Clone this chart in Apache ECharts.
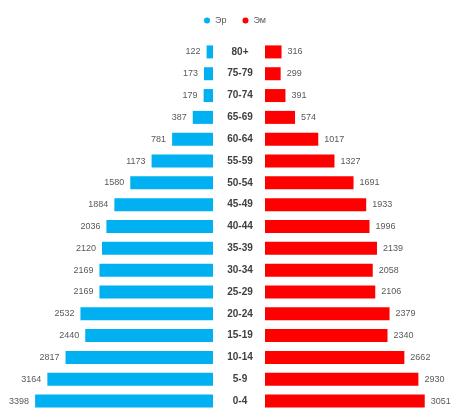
<!DOCTYPE html>
<html>
<head>
<meta charset="utf-8">
<script src="https://cdn.jsdelivr.net/npm/echarts@6/dist/echarts.min.js"></script>
<style>
html,body{margin:0;padding:0;background:#fff;}
#main{width:452px;height:412px;}
</style>
</head>
<body>
<div id="main"></div>
<script>
var ages=['80+','75-79','70-74','65-69','60-64','55-59','50-54','45-49','40-44','35-39','30-34','25-29','20-24','15-19','10-14','5-9','0-4'];
var male=[122,173,179,387,781,1173,1580,1884,2036,2120,2169,2169,2532,2440,2817,3164,3398];
var female=[316,299,391,574,1017,1327,1691,1933,1996,2139,2058,2106,2379,2340,2662,2930,3051];
var seriesNames=['Эр','Эм'];
var chartColor=['#00b0f0','#ff0000'];

var chart=echarts.init(document.getElementById('main'));
var labelStyle={show:true,fontSize:9,color:'#595959',fontFamily:'Liberation Sans'};
var option={
	color:chartColor,
	animation:false,
	legend:{
		data:seriesNames,
		top:11,
		left:199,
		icon:'circle',
		itemWidth:6,
		itemHeight:6,
		itemGap:16,
		textStyle:{fontSize:9,color:'#595959',fontFamily:'Liberation Sans'}
	},
	grid:[
		{left:35,width:178,top:41,height:377},
		{left:265,width:178,top:41,height:377}
	],
	xAxis:[
		{gridIndex:0,type:'value',inverse:true,min:0,max:3400,show:false,splitLine:{show:false}},
		{gridIndex:1,type:'value',min:0,max:3400,show:false,splitLine:{show:false}}
	],
	yAxis:[
		{gridIndex:0,type:'category',data:ages,inverse:true,show:false},
		{
			gridIndex:1,type:'category',data:ages,inverse:true,position:'left',
			axisLine:{show:false},axisTick:{show:false},
			axisLabel:{align:'center',margin:25,fontSize:10,fontWeight:'bold',color:'#404040',fontFamily:'Liberation Sans'}
		}
	],
	series:[
		{
			name:seriesNames[0],type:'bar',xAxisIndex:0,yAxisIndex:0,
			barWidth:13,data:male,
			label:Object.assign({position:'left',distance:6},labelStyle)
		},
		{
			name:seriesNames[1],type:'bar',xAxisIndex:1,yAxisIndex:1,
			barWidth:13,data:female,
			label:Object.assign({position:'right',distance:6},labelStyle)
		}
	]
};
chart.setOption(option);
</script>
</body>
</html>
